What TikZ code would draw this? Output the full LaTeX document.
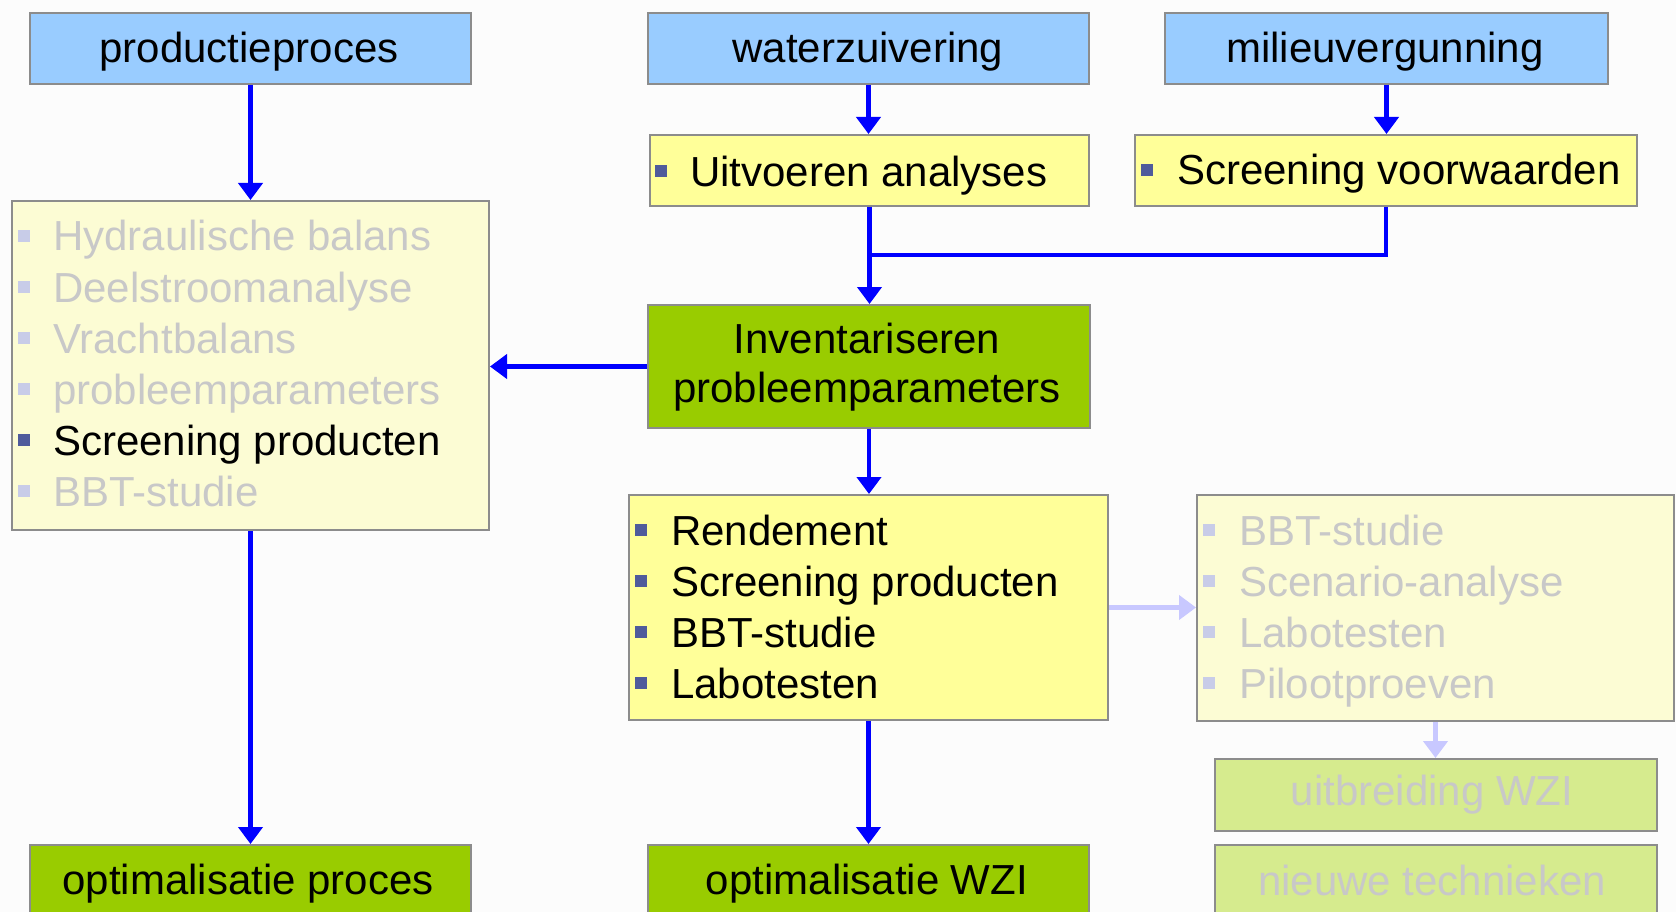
\documentclass[tikz,border=0pt]{standalone}
\usepackage{fontspec}
\setmainfont{Liberation Sans}
\usetikzlibrary{arrows.meta}
\definecolor{bgc}{HTML}{FCFCFC}
\definecolor{bluebox}{HTML}{99CCFF}
\definecolor{yelbox}{HTML}{FFFF99}
\definecolor{grnbox}{HTML}{99CC00}
\definecolor{fyelbox}{HTML}{FCFCD4}
\definecolor{fgrnbox}{HTML}{D6EB8E}
\definecolor{bordc}{HTML}{8C8C8C}
\definecolor{arrc}{HTML}{0000FF}
\definecolor{farrc}{HTML}{C8C8FF}
\definecolor{bulc}{HTML}{4F5B9B}
\definecolor{fbulc}{HTML}{C8CCE8}
\definecolor{ftxt}{HTML}{C8C8C8}
\begin{document}
\begin{tikzpicture}[x=1pt,y=-1pt,
  box/.style={draw=bordc, line width=2pt, inner sep=0pt, anchor=north west},
  txt/.style={anchor=base, inner sep=0pt, font=\fontsize{42}{50}\selectfont},
  ltxt/.style={anchor=base west, inner sep=0pt, font=\fontsize{42}{50}\selectfont},
  bul/.style={fill=bulc, minimum size=12pt, inner sep=0pt},
  fbul/.style={fill=fbulc, minimum size=12pt, inner sep=0pt},
  arr/.style={draw=arrc, line width=4.5pt, -{Triangle[width=24pt,length=17pt]}},
  farr/.style={draw=farrc, line width=4.5pt, -{Triangle[width=24pt,length=17pt]}},
  seg/.style={draw=arrc, line width=4.5pt}]
\fill[bgc] (0,0) rectangle (1676,912);
\useasboundingbox (0,0) rectangle (1676,912);

% boxes
\node[box, fill=bluebox, minimum width=441pt, minimum height=71pt] (prod) at (29,12) {};
\node[box, fill=bluebox, minimum width=441pt, minimum height=71pt] (water) at (647,12) {};
\node[box, fill=bluebox, minimum width=443pt, minimum height=71pt] (milieu) at (1164,12) {};
\node[box, fill=yelbox, minimum width=439pt, minimum height=71pt] (uitv) at (649,134) {};
\node[box, fill=yelbox, minimum width=502pt, minimum height=71pt] (scrv) at (1134,134) {};
\node[box, fill=fyelbox, minimum width=477pt, minimum height=329pt] (leftl) at (11,200) {};
\node[box, fill=grnbox, minimum width=442pt, minimum height=123pt] (inv) at (647,304) {};
\node[box, fill=yelbox, minimum width=479pt, minimum height=225pt] (mid) at (628,494) {};
\node[box, fill=fyelbox, minimum width=477pt, minimum height=226pt] (rightl) at (1196,494) {};
\node[box, fill=fgrnbox, minimum width=442pt, minimum height=72pt] (uitb) at (1214,758) {};
\node[box, fill=fgrnbox, minimum width=442pt, minimum height=80pt] (nieuw) at (1214,844) {};
\node[box, fill=grnbox, minimum width=441pt, minimum height=80pt] (optp) at (29,844) {};
\node[box, fill=grnbox, minimum width=441pt, minimum height=80pt] (optw) at (647,844) {};

% texts of single boxes
\node[txt] (tprod) at (249,63) {productieproces};
\node[txt] (twater) at (868,63) {waterzuivering};
\node[txt] (tmilieu) at (1385,63) {milieuvergunning};
\node[bul] (buitv) at (661,171) {};
\node[ltxt] (tuitv) at (690,187) {Uitvoeren analyses};
\node[bul] (bscrv) at (1147,170) {};
\node[ltxt] (tscrv) at (1177,185) {Screening voorwaarden};
\node[txt] (tinv1) at (867,353) {Inventariseren};
\node[txt] (tinv2) at (867,402) {probleemparameters};
\node[txt] (toptp) at (248,894) {optimalisatie proces};
\node[txt] (toptw) at (867,894) {optimalisatie WZI};
\node[txt, text=ftxt] (tuitb) at (1432,805) {uitbreiding WZI};
\node[txt, text=ftxt] (tnieuw) at (1432,895) {nieuwe technieken};

% left list
\node[fbul] (lb1) at (24,236) {};
\node[ltxt, text=ftxt] (lt1) at (53,251) {Hydraulische balans};
\node[fbul] (lb2) at (24,287) {};
\node[ltxt, text=ftxt] (lt2) at (53,302) {Deelstroomanalyse};
\node[fbul] (lb3) at (24,338) {};
\node[ltxt, text=ftxt] (lt3) at (53,353) {Vrachtbalans};
\node[fbul] (lb4) at (24,389) {};
\node[ltxt, text=ftxt] (lt4) at (53,404) {probleemparameters};
\node[bul] (lb5) at (24,440) {};
\node[ltxt] (lt5) at (53,455) {Screening producten};
\node[fbul] (lb6) at (24,491) {};
\node[ltxt, text=ftxt] (lt6) at (53,506) {BBT-studie};

% middle list
\node[bul] (mb1) at (641,530) {};
\node[ltxt] (mt1) at (671,545) {Rendement};
\node[bul] (mb2) at (641,581) {};
\node[ltxt] (mt2) at (671,596) {Screening producten};
\node[bul] (mb3) at (641,632) {};
\node[ltxt] (mt3) at (671,647) {BBT-studie};
\node[bul] (mb4) at (641,683) {};
\node[ltxt] (mt4) at (671,698) {Labotesten};

% right list
\node[fbul] (rb1) at (1209,530) {};
\node[ltxt, text=ftxt] (rt1) at (1239,545) {BBT-studie};
\node[fbul] (rb2) at (1209,581) {};
\node[ltxt, text=ftxt] (rt2) at (1239,596) {Scenario-analyse};
\node[fbul] (rb3) at (1209,632) {};
\node[ltxt, text=ftxt] (rt3) at (1239,647) {Labotesten};
\node[fbul] (rb4) at (1209,683) {};
\node[ltxt, text=ftxt] (rt4) at (1239,698) {Pilootproeven};

% connectors
\coordinate (jn) at (868.5,255);
\draw[arr] (prod.south) -- (prod.south |- leftl.north);
\draw[arr] (water.south) -- (water.south |- uitv.north);
\draw[arr] (milieu.south) -- (milieu.south |- scrv.north);
\draw[arr] (uitv.south) -- (uitv.south |- inv.north);
\draw[seg] (scrv.south) |- (jn);
\draw[arr] (inv.west) -- (inv.west -| leftl.east);
\draw[arr] (inv.south) -- (inv.south |- mid.north);
\draw[arr] (leftl.south) -- (leftl.south |- optp.north);
\draw[arr] (mid.south) -- (mid.south |- optw.north);
\draw[farr] (mid.east) -- (mid.east -| rightl.west);
\draw[farr] (rightl.south) -- (rightl.south |- uitb.north);
\end{tikzpicture}
\end{document}
